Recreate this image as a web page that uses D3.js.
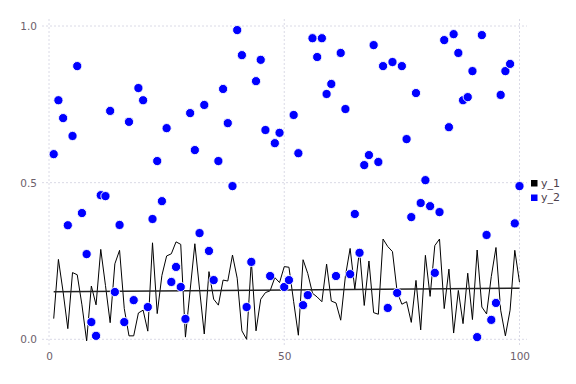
<!DOCTYPE html>
<html>
<head>
<meta charset="utf-8">
<script src="https://cdn.jsdelivr.net/npm/d3@7"></script>
<style>
  html, body { margin: 0; padding: 0; background: #fff; }
  svg { display: block; }
</style>
</head>
<body>
<svg id="chart" width="576" height="384"></svg>
<script>
// ---- data ----
const xValues = d3.range(1, 101);
const y1 = [0.066,0.255,0.151,0.034,0.213,0.206,0.11,-0.005,0.170,0.11,
  0.287,0.172,0.053,0.241,0.284,0.098,0.011,0.011,0.084,0.093,
  0.026,0.308,0.082,0.204,0.266,0.273,0.311,0.303,0.007,0.157,
  0.305,0.16,0.017,0.216,0.128,0.109,0.189,0.186,0.269,0.195,
  0.027,0.000,0.25,0.027,0.128,0.149,0.155,0.197,0.181,0.232,
  0.230,0.12,0.013,0.254,0.210,0.147,0.135,0.120,0.24,0.122,
  0.116,0.061,0.202,0.290,0.16,0.285,0.108,0.25,0.085,0.08,
  0.32,0.296,0.280,0.151,0.112,0.120,0.054,0.188,0.030,0.268,
  0.137,0.299,0.32,0.098,0.224,0.02,0.156,0.05,0.211,0.063,
  0.285,0.103,0.081,0.2,0.293,0.093,0.011,0.093,0.284,0.182];
const y2 = [0.591,0.763,0.706,0.364,0.649,0.872,0.403,0.272,0.055,0.011,
  0.460,0.457,0.729,0.151,0.365,0.055,0.694,0.125,0.802,0.763,
  0.103,0.384,0.569,0.441,0.674,0.183,0.231,0.167,0.065,0.722,
  0.604,0.339,0.748,0.282,0.189,0.569,0.799,0.690,0.489,0.987,
  0.907,0.103,0.247,0.824,0.892,0.668,0.202,0.626,0.659,0.167,
  0.189,0.716,0.594,0.109,0.141,0.961,0.901,0.961,0.783,0.815,
  0.202,0.914,0.735,0.208,0.400,0.276,0.556,0.588,0.939,0.566,
  0.872,0.100,0.885,0.148,0.872,0.639,0.390,0.786,0.435,0.508,
  0.425,0.212,0.406,0.955,0.677,0.974,0.914,0.763,0.773,0.856,
  0.007,0.971,0.333,0.062,0.116,0.780,0.856,0.879,0.370,0.489];
const fitX = [1, 100];
const fitY = [0.152, 0.163];
const xTicks = [0, 50, 100];
const yTicks = [0, 0.5, 1.0];
const seriesNames = ["y_1", "y_2"];
const seriesColors = ["#000000", "#0000ff"];

// ---- chart ----
const svg = d3.select("#chart");
const x = d3.scaleLinear().domain([0, 100]).range([49, 519.5]);
const y = d3.scaleLinear().domain([0, 1]).range([339.3, 26]);
const panel = { left: 42, right: 527, top: 19, bottom: 346 };
const labelColor = "#6c606b";
const font = "'DejaVu Sans', sans-serif";

// grid
const grid = svg.append("g").attr("stroke", "#d0d0e0").attr("stroke-width", 0.8)
  .attr("stroke-dasharray", "2,2").attr("fill", "none");
grid.selectAll(".gx").data(xTicks).join("line")
  .attr("x1", d => x(d)).attr("x2", d => x(d))
  .attr("y1", panel.top).attr("y2", panel.bottom);
grid.selectAll(".gy").data(yTicks).join("line")
  .attr("x1", panel.left).attr("x2", panel.right)
  .attr("y1", d => y(d)).attr("y2", d => y(d));

// axes (labels only)
const yAxis = svg.append("g").attr("transform", `translate(${x(0)},0)`)
  .call(d3.axisLeft(y).tickValues(yTicks).tickFormat(d3.format(".1f")).tickSize(0).tickPadding(12));
const xAxis = svg.append("g").attr("transform", `translate(0,${y(0)})`)
  .call(d3.axisBottom(x).tickValues(xTicks).tickFormat(d3.format("d")).tickSize(0).tickPadding(13));
[xAxis, yAxis].forEach(a => {
  a.select(".domain").remove();
  a.selectAll("text").attr("fill", labelColor).style("font-family", font).style("font-size", "10.5px");
});

// y_1 line
const line = d3.line().x((d, i) => x(xValues[i])).y(d => y(d));
svg.append("path").datum(y1).attr("d", line)
  .attr("fill", "none").attr("stroke", seriesColors[0]).attr("stroke-width", 1)
  .attr("stroke-linejoin", "miter");

// fit line
const fitLine = d3.line().x((d, i) => x(fitX[i])).y(d => y(d));
svg.append("path").datum(fitY).attr("d", fitLine)
  .attr("fill", "none").attr("stroke", "#222").attr("stroke-width", 1.5);

// y_2 points
svg.append("g").selectAll("circle").data(y2).join("circle")
  .attr("cx", (d, i) => x(xValues[i])).attr("cy", d => y(d))
  .attr("r", 4.6).attr("fill", seriesColors[1])
  .attr("stroke", "#ffffff").attr("stroke-width", 0.9);

// legend
const legend = svg.append("g").attr("transform", "translate(531,180)");
seriesNames.forEach((name, i) => {
  const g = legend.append("g").attr("transform", `translate(0,${i * 14.5})`);
  g.append("rect").attr("width", 6.5).attr("height", 6.5).attr("fill", seriesColors[i]);
  g.append("text").attr("x", 10).attr("y", 6.5).text(name)
    .attr("fill", "#4c404b").style("font-family", font).style("font-size", "11px");
});
</script>
</body>
</html>
